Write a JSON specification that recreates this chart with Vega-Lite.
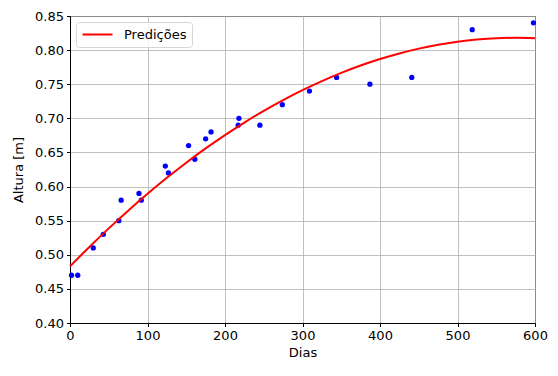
{
  "$schema": "https://vega.github.io/schema/vega-lite/v6.json",
  "width": 465,
  "height": 307,
  "autosize": {"type": "none"},
  "padding": {"left": 70, "top": 16, "right": 23, "bottom": 53},
  "background": "white",
  "config": {
    "font": "DejaVu Sans",
    "view": {"stroke": "black", "strokeWidth": 1},
    "axis": {
      "domainColor": "black", "tickColor": "black", "labelColor": "black", "titleColor": "black",
      "labelFontSize": 13, "titleFontSize": 13, "titleFontWeight": "normal",
      "gridColor": "#b0b0b0", "gridWidth": 0.8, "tickSize": 3.5, "labelPadding": 3,
      "labelOverlap": false, "labelFlush": false, "labelBound": false
    }
  },
  "datasets": {
    "obs": [
      {"dias": 2, "altura": 0.47}, {"dias": 10, "altura": 0.47}, {"dias": 30, "altura": 0.51},
      {"dias": 43, "altura": 0.53}, {"dias": 63, "altura": 0.55}, {"dias": 66, "altura": 0.58},
      {"dias": 89, "altura": 0.59}, {"dias": 92, "altura": 0.58}, {"dias": 123, "altura": 0.63},
      {"dias": 127, "altura": 0.62}, {"dias": 153, "altura": 0.66}, {"dias": 161, "altura": 0.64},
      {"dias": 175, "altura": 0.67}, {"dias": 182, "altura": 0.68}, {"dias": 217, "altura": 0.69},
      {"dias": 218, "altura": 0.70}, {"dias": 245, "altura": 0.69}, {"dias": 274, "altura": 0.72},
      {"dias": 309, "altura": 0.74}, {"dias": 344, "altura": 0.76}, {"dias": 387, "altura": 0.75},
      {"dias": 441, "altura": 0.76}, {"dias": 519, "altura": 0.83}, {"dias": 598, "altura": 0.84}
    ],
    "pred": [
      {"dias": 0, "altura": 0.483}, {"dias": 25, "altura": 0.5115}, {"dias": 50, "altura": 0.5387},
      {"dias": 75, "altura": 0.5647}, {"dias": 100, "altura": 0.5894}, {"dias": 125, "altura": 0.6128},
      {"dias": 150, "altura": 0.635}, {"dias": 175, "altura": 0.6559}, {"dias": 200, "altura": 0.6755},
      {"dias": 225, "altura": 0.6938}, {"dias": 250, "altura": 0.711}, {"dias": 275, "altura": 0.7268},
      {"dias": 300, "altura": 0.7413}, {"dias": 325, "altura": 0.7546}, {"dias": 350, "altura": 0.7667},
      {"dias": 375, "altura": 0.7774}, {"dias": 400, "altura": 0.7869}, {"dias": 425, "altura": 0.7951},
      {"dias": 450, "altura": 0.8022}, {"dias": 475, "altura": 0.8078}, {"dias": 500, "altura": 0.8122},
      {"dias": 525, "altura": 0.8154}, {"dias": 550, "altura": 0.8174}, {"dias": 575, "altura": 0.818},
      {"dias": 600, "altura": 0.8173}
    ]
  },
  "encoding": {
    "x": {"field": "dias", "type": "quantitative", "scale": {"domain": [0, 600], "nice": false},
          "axis": {"title": "Dias", "values": [0, 100, 200, 300, 400, 500, 600], "titlePadding": 4}},
    "y": {"field": "altura", "type": "quantitative", "scale": {"domain": [0.4, 0.85], "nice": false, "zero": false},
          "axis": {"title": "Altura [m]", "format": ".2f", "titlePadding": 9, "labelOverlap": false,
                   "values": [0.4, 0.45, 0.5, 0.55, 0.6, 0.65, 0.7, 0.75, 0.8, 0.85]}}
  },
  "layer": [
    {
      "data": {"name": "obs"},
      "mark": {"type": "circle", "color": "blue", "size": 28, "opacity": 1}
    },
    {
      "data": {"name": "pred"},
      "mark": {"type": "line", "strokeWidth": 2, "interpolate": "monotone"},
      "encoding": {
        "color": {
          "datum": "Predições",
          "scale": {"range": ["red"]},
          "legend": {
            "title": null, "orient": "top-left", "offset": 6,
            "symbolType": "stroke", "symbolStrokeWidth": 2.2, "symbolSize": 900,
            "clipHeight": 15, "labelOffset": 10,
            "labelFontSize": 13, "labelColor": "black",
            "strokeColor": "#d6d6d6", "fillColor": "rgba(255,255,255,0.8)", "cornerRadius": 3,
            "padding": 5
          }
        }
      }
    }
  ]
}
